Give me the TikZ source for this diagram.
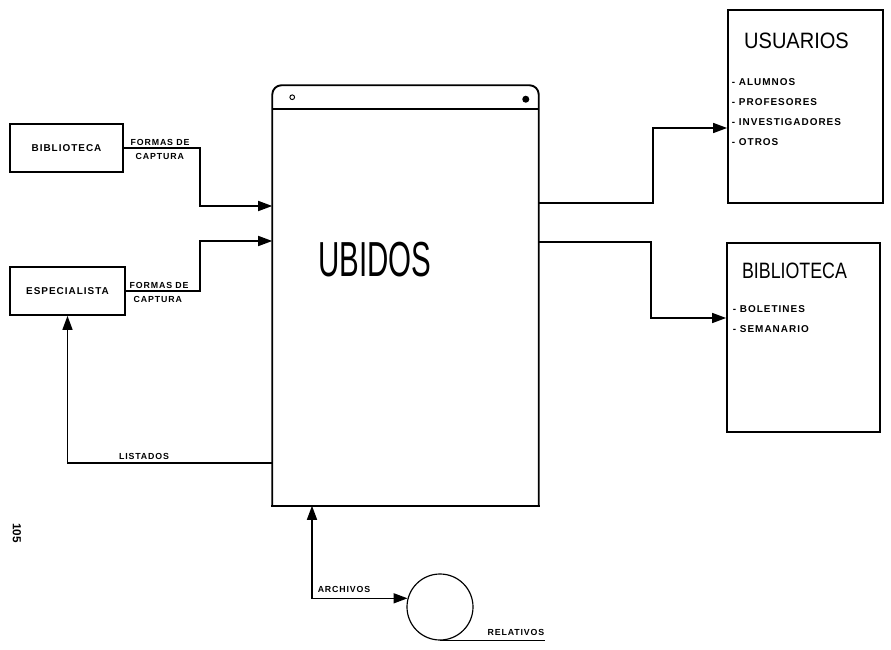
\documentclass[tikz,border=0pt]{standalone}
\usepackage{fontspec}
\setmainfont{Liberation Sans}
\newfontfamily\handfont[LetterSpace=10]{Liberation Sans}
\usetikzlibrary{arrows.meta,positioning,calc}

\begin{document}
\begin{tikzpicture}[x=0.03cm,y=-0.03cm,
  line width=1.3pt,
  box/.style={draw,line width=1.5pt,inner sep=0pt,font=\handfont\bfseries\fontsize{8.5}{10}\selectfont},
  lbl/.style={inner sep=0pt,font=\handfont\bfseries\fontsize{7.5}{9}\selectfont},
  itm/.style={inner sep=0pt,align=left,font=\handfont\bfseries\fontsize{8.5}{17}\selectfont},
  ttl/.style={inner sep=0pt,font=\fontsize{19}{22}\selectfont},
  flow/.style={-{Triangle[length=4.2mm,width=3mm]}}]

\useasboundingbox (0,0) rectangle (891,650);

% --- main process: open top with rounded corners, header strip ---
\node[minimum width=7.95cm,minimum height=12.57cm,inner sep=0pt] (ubidos) at (405.5,295.5) {};
\draw[line width=1.6pt,rounded corners=8pt] (ubidos.south west) -- (ubidos.north west)
  -- (ubidos.north east) -- (ubidos.south east);
\draw[line width=1.6pt,line cap=rect] (ubidos.south west) -- (ubidos.south east);
\draw ($(ubidos.north west)+(0,24)$) -- ($(ubidos.north east)+(0,24)$);
\draw[line width=0.8pt] ($(ubidos.north west)+(20,12)$) circle (2pt);
\fill ($(ubidos.north east)+(-13,14)$) circle (3pt);
\node[inner sep=0pt,font=\fontsize{42}{46}\selectfont] (ubtitle) at (375,260) {\scalebox{0.6}[1]{UBIDOS}};

% --- sources on the left ---
\node[box,minimum width=3.39cm,minimum height=1.44cm] (biblio) at (66.5,148) {BIBLIOTECA};
\node[box,minimum width=3.45cm,minimum height=1.44cm] (espec) at (67.5,291) {ESPECIALISTA};

\draw[flow] (biblio.east) -- ++(76,0) |- (ubidos.west |- 0,206);
\node[lbl,anchor=south west] (fd1) at ($(biblio.east)+(6,-2)$) {FORMAS DE};
\node[lbl,anchor=north west] (ca1) at ($(biblio.east)+(11,5)$) {CAPTURA};

\draw[flow] (espec.east) -- ++(74,0) |- (ubidos.west |- 0,241);
\node[lbl,anchor=south west] (fd2) at ($(espec.east)+(3,-2)$) {FORMAS DE};
\node[lbl,anchor=north west] (ca2) at ($(espec.east)+(7,5)$) {CAPTURA};

\draw[flow] (ubidos.west |- 0,463) -| (espec.south);
\node[lbl,anchor=south] (lst) at (144,460) {LISTADOS};

% --- destinations on the right ---
\node[box,minimum width=4.65cm,minimum height=5.79cm] (usuarios) at (805.5,106.5) {};
\node[ttl,below=0.69cm of usuarios.north,xshift=-0.27cm] (usutitle) {\scalebox{0.9}[1]{USUARIOS}};
\node[itm,anchor=north west] (usulist) at ($(usuarios.north west)+(4,69)$)
  {- ALUMNOS\\- PROFESORES\\- INVESTIGADORES\\- OTROS};

\node[box,minimum width=4.59cm,minimum height=5.67cm] (bibout) at (803.5,337.5) {};
\node[ttl,below=0.6cm of bibout.north,xshift=-0.27cm] (bibtitle) {\scalebox{0.8}[1]{BIBLIOTECA}};
\node[itm,anchor=north west] (biblist) at ($(bibout.north west)+(6,63)$)
  {- BOLETINES\\- SEMANARIO};

\draw[flow] (ubidos.east |- 0,203) -- ++(114,0) |- (usuarios.west |- 0,128);
\draw[flow] (ubidos.east |- 0,242) -- ++(112,0) |- (bibout.west |- 0,318);

% --- file store below ---
\node[draw,circle,minimum size=1.98cm,inner sep=0pt,line width=1pt] (store) at (440,607) {};
\draw[{Triangle[length=4.2mm,width=3mm]}-{Triangle[length=4.2mm,width=3mm]}]
  (ubidos.south -| 312,0) |- (store.165);
\node[lbl,anchor=south west] (arch) at (317,593) {ARCHIVOS};
\draw[line width=1pt] (store.south) -- ++(105,0) coordinate (relend);
\node[lbl,anchor=south east] (rel) at ($(relend)+(0,-4)$) {RELATIVOS};

% --- page number ---
\node[rotate=-90,inner sep=0pt,font=\bfseries\fontsize{10}{12}\selectfont] (pagenum) at (17,533) {105};
\end{tikzpicture}
\end{document}
